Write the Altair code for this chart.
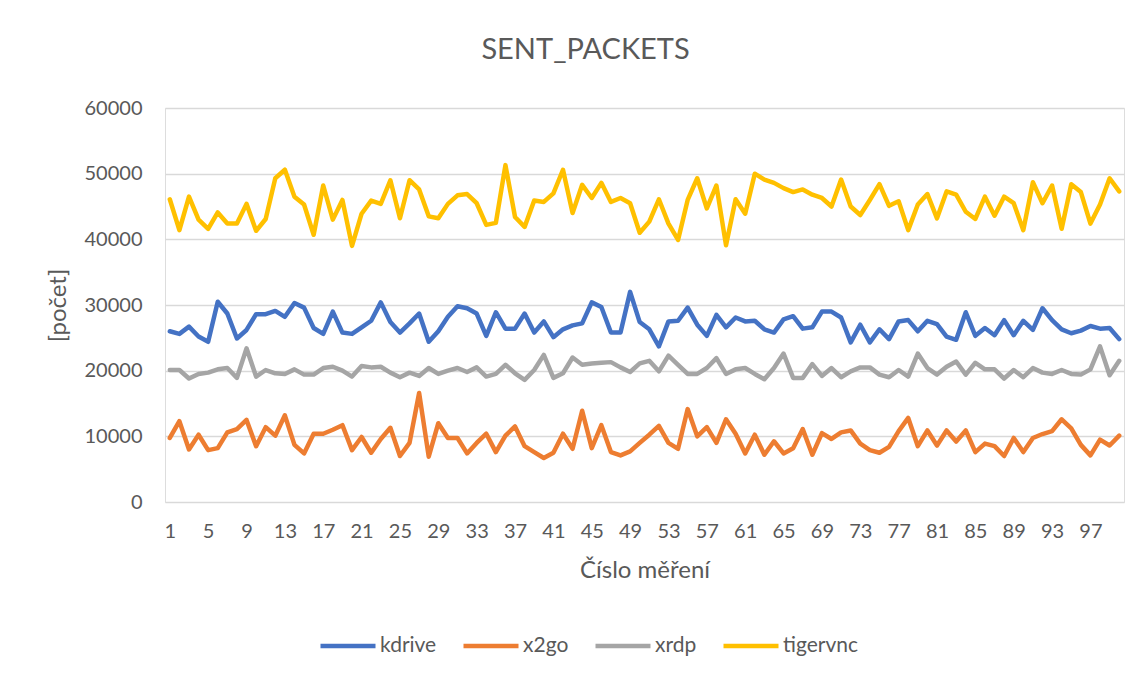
import altair as alt
import pandas as pd

measure = list(range(1, 101))

kdrive = [26000, 25600, 26700, 25200, 24400, 30500, 28700, 24900, 26200, 28600,
          28600, 29100, 28200, 30300, 29600, 26500, 25600, 29000, 25800, 25600,
          26600, 27600, 30400, 27400, 25800, 27200, 28700, 24400, 26000, 28200,
          29800, 29500, 28700, 25300, 28900, 26400, 26400, 28700, 25800, 27500,
          25100, 26300, 26900, 27200, 30400, 29700, 25800, 25800, 32000, 27400,
          26300, 23700, 27500, 27600, 29600, 27000, 25300, 28500, 26600, 28100,
          27500, 27600, 26300, 25800, 27800, 28300, 26400, 26600, 29000, 29000,
          28100, 24300, 27000, 24300, 26300, 24800, 27500, 27700, 26000, 27600,
          27100, 25200, 24700, 28900, 25300, 26500, 25400, 27700, 25400, 27600,
          26200, 29500, 27700, 26300, 25700, 26100, 26800, 26400, 26500, 24800]

x2go = [9750, 12300, 8000, 10250, 7900, 8200, 10600, 11100, 12500, 8500,
        11400, 10100, 13200, 8700, 7400, 10400, 10400, 11000, 11700, 7900,
        9900, 7500, 9600, 11300, 7000, 9000, 16600, 6900, 12000, 9750,
        9750, 7400, 9000, 10400, 7600, 10100, 11500, 8500, 7600, 6700,
        7500, 10400, 8100, 13900, 8200, 11700, 7600, 7100, 7700, 9000,
        10250, 11600, 9000, 8100, 14150, 10000, 11400, 9000, 12600, 10400,
        7400, 10250, 7200, 9250, 7400, 8200, 11100, 7200, 10500, 9600,
        10600, 10900, 8900, 7900, 7500, 8400, 10800, 12800, 8500, 10900,
        8600, 10900, 9200, 10900, 7600, 8900, 8500, 7000, 9750, 7600,
        9750, 10350, 10800, 12600, 11200, 8700, 7100, 9500, 8600, 10100]

xrdp = [20100, 20100, 18800, 19500, 19700, 20200, 20400, 18900, 23400, 19100,
        20100, 19600, 19500, 20200, 19400, 19400, 20400, 20600, 20000, 19100,
        20700, 20500, 20600, 19700, 19000, 19700, 19200, 20400, 19500, 20000,
        20400, 19800, 20500, 19100, 19500, 20900, 19600, 18600, 20100, 22400,
        18900, 19600, 22000, 20900, 21100, 21200, 21300, 20500, 19800, 21100,
        21500, 19900, 22300, 20900, 19500, 19500, 20400, 21900, 19500, 20200,
        20400, 19500, 18700, 20400, 22600, 18900, 18900, 21000, 19200, 20400,
        19000, 19900, 20500, 20500, 19400, 19000, 20100, 19100, 22600, 20400,
        19400, 20600, 21400, 19400, 21200, 20200, 20200, 18800, 20100, 19000,
        20400, 19700, 19500, 20100, 19500, 19400, 20200, 23700, 19300, 21500]

tigervnc = [46100, 41400, 46500, 43000, 41600, 44100, 42400, 42400, 45400, 41300,
            43100, 49300, 50600, 46500, 45300, 40700, 48200, 43000, 46000, 39000,
            43900, 45900, 45400, 49000, 43200, 49000, 47600, 43500, 43200, 45400,
            46700, 46900, 45500, 42200, 42500, 51300, 43400, 41900, 45900, 45700,
            47000, 50600, 44000, 48300, 46300, 48600, 45700, 46300, 45500, 41000,
            42700, 46100, 42400, 39900, 46000, 49300, 44700, 48200, 39100, 46100,
            43900, 50000, 49100, 48600, 47800, 47200, 47600, 46800, 46300, 45000,
            49100, 45000, 43700, 46000, 48400, 45100, 45800, 41400, 45300, 46900,
            43200, 47300, 46800, 44200, 43100, 46500, 43600, 46500, 45500, 41400,
            48700, 45500, 48200, 41600, 48400, 47200, 42400, 45300, 49300, 47300]

series_names = ["kdrive", "x2go", "xrdp", "tigervnc"]
series_colors = ["#4472C4", "#ED7D31", "#A5A5A5", "#FFC000"]
x_ticks = list(range(1, 101, 4))
y_ticks = [0, 10000, 20000, 30000, 40000, 50000, 60000]

rows = []
for name, vals in zip(series_names, [kdrive, x2go, xrdp, tigervnc]):
    for m, v in zip(measure, vals):
        rows.append({"measure": m, "value": v, "series": name, "order": series_names.index(name)})
df = pd.DataFrame(rows)

FONT = "Lato"
TXT = "#595959"

chart = alt.Chart(df).mark_line(strokeWidth=4.5, strokeJoin="round", strokeCap="round").encode(
    x=alt.X("measure:Q",
            scale=alt.Scale(domain=[0.5, 100.5], nice=False, zero=False),
            axis=alt.Axis(values=x_ticks, format="d", title="Číslo měření",
                          grid=False, domain=False, ticks=False,
                          labelFontSize=20, labelColor=TXT, labelPadding=19, labelFont=FONT,
                          titleFontSize=24, titleColor=TXT, titleFontWeight="normal",
                          titlePadding=17, titleFont=FONT, labelFlush=False)),
    y=alt.Y("value:Q",
            scale=alt.Scale(domain=[0, 60000], nice=False),
            axis=alt.Axis(values=y_ticks, format="d", title="[počet]",
                          grid=True, gridColor="#D9D9D9", gridWidth=1.3,
                          domain=False, ticks=False,
                          labelFontSize=20, labelColor=TXT, labelPadding=23, labelFont=FONT,
                          titleFontSize=24, titleColor=TXT, titleFontWeight="normal",
                          titleFont=FONT, titleX=-107, titleY=197, titleAngle=270,
                          titleBaseline="middle", titleAlign="center")),
    color=alt.Color("series:N",
                    scale=alt.Scale(domain=series_names, range=series_colors),
                    legend=alt.Legend(title=None, orient="none", direction="horizontal",
                                      legendX=153, legendY=508, columns=4,
                                      symbolType="stroke", symbolSize=3025,
                                      symbolStrokeWidth=4.5, labelFontSize=21,
                                      labelColor=TXT, labelFont=FONT, labelOffset=2,
                                      columnPadding=17, padding=0)),
    order=alt.Order("order:Q"),
    detail="series:N",
).properties(
    width=959, height=394,
    title=alt.TitleParams("SENT_PACKETS", fontSize=29, font=FONT, color=TXT,
                          fontWeight="normal", anchor="middle", offset=33, dx=-59),
    autosize=alt.AutoSizeParams(type="none"),
    padding={"left": 157, "top": 100, "right": 15, "bottom": 160},
).configure_view(stroke=None).configure(background="white")

chart.save("out.html", embed_options={"renderer": "svg", "actions": False})
